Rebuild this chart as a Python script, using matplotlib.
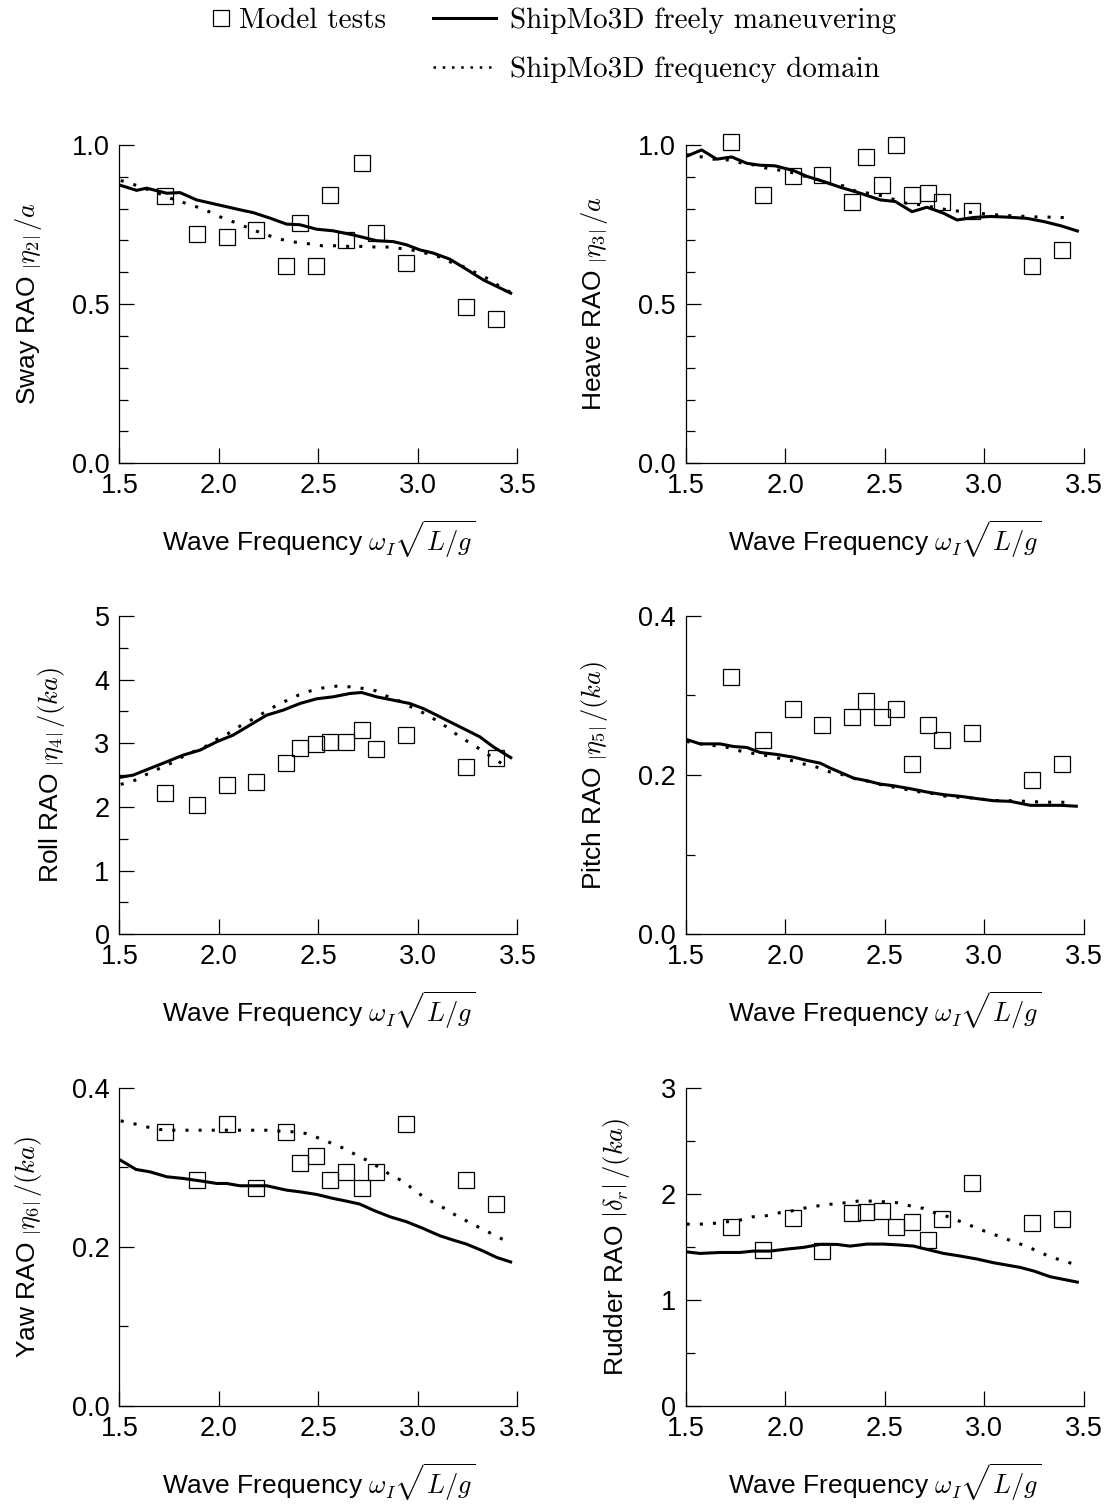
import matplotlib
matplotlib.use('Agg')
import matplotlib.pyplot as plt
from matplotlib.ticker import MultipleLocator, FormatStrFormatter
from matplotlib.lines import Line2D

plt.rcParams['font.family'] = ['Liberation Sans', 'DejaVu Sans']
plt.rcParams['mathtext.fontset'] = 'cm'

# ---------------- data ----------------
test_x = [1.728, 1.888, 2.039, 2.187, 2.337, 2.408, 2.487, 2.558, 2.638, 2.718, 2.789, 2.939, 3.240, 3.390]

sway_test = [0.838, 0.720, 0.712, 0.731, 0.621, 0.754, 0.621, 0.842, 0.702, 0.942, 0.723, 0.630, 0.492, 0.452]
sway_free_x = [1.500, 1.587, 1.637, 1.738, 1.805, 1.888, 2.022, 2.106, 2.173, 2.256, 2.340, 2.407, 2.491, 2.574,
               2.675, 2.792, 2.876, 2.943, 3.010, 3.077, 3.160, 3.244, 3.328, 3.473]
sway_free_y = [0.874, 0.857, 0.864, 0.848, 0.850, 0.827, 0.808, 0.796, 0.787, 0.770, 0.751, 0.749, 0.735, 0.730,
               0.717, 0.699, 0.696, 0.686, 0.670, 0.660, 0.641, 0.609, 0.576, 0.532]
sway_freq_x = [1.507, 1.570, 1.696, 1.758, 1.821, 1.885, 1.947, 2.009, 2.069, 2.133, 2.193, 2.256, 2.320, 2.387,
               2.454, 2.519, 2.586, 2.653, 2.720, 2.787, 2.854, 2.918, 2.985, 3.051, 3.113, 3.177, 3.236, 3.294,
               3.356, 3.411, 3.473]
sway_freq_y = [0.888, 0.876, 0.848, 0.832, 0.819, 0.806, 0.791, 0.773, 0.759, 0.743, 0.728, 0.714, 0.702, 0.694,
               0.689, 0.683, 0.683, 0.681, 0.681, 0.679, 0.679, 0.674, 0.668, 0.658, 0.647, 0.628, 0.616, 0.597,
               0.578, 0.555, 0.534]

heave_test = [1.008, 0.841, 0.901, 0.904, 0.822, 0.963, 0.874, 1.001, 0.841, 0.850, 0.822, 0.793, 0.621, 0.670]
heave_free_x = [1.500, 1.580, 1.656, 1.731, 1.807, 1.874, 1.949, 2.042, 2.109, 2.192, 2.276, 2.377, 2.478, 2.553,
                2.637, 2.712, 2.796, 2.863, 2.947, 3.031, 3.115, 3.215, 3.299, 3.383, 3.475]
heave_free_y = [0.963, 0.984, 0.955, 0.962, 0.942, 0.936, 0.934, 0.919, 0.901, 0.885, 0.867, 0.848, 0.827, 0.822,
                0.790, 0.804, 0.785, 0.764, 0.772, 0.775, 0.773, 0.769, 0.759, 0.746, 0.728]
heave_freq_x = [1.505, 1.572, 1.639, 1.706, 1.773, 1.840, 1.904, 1.966, 2.033, 2.100, 2.167, 2.229, 2.293, 2.360,
                2.419, 2.486, 2.553, 2.617, 2.679, 2.746, 2.813, 2.880, 2.944, 3.011, 3.078, 3.145, 3.212, 3.279,
                3.346, 3.413]
heave_freq_y = [0.969, 0.963, 0.955, 0.953, 0.944, 0.937, 0.927, 0.921, 0.913, 0.901, 0.890, 0.877, 0.871, 0.853,
                0.848, 0.840, 0.827, 0.815, 0.812, 0.804, 0.796, 0.791, 0.787, 0.783, 0.779, 0.777, 0.775, 0.773,
                0.773, 0.771]

roll_test = [2.223, 2.029, 2.343, 2.395, 2.694, 2.929, 2.986, 3.013, 3.013, 3.206, 2.908, 3.128, 2.631, 2.762]
roll_free_x = [1.500, 1.570, 1.654, 1.738, 1.821, 1.905, 1.989, 2.072, 2.156, 2.240, 2.323, 2.407, 2.491, 2.574,
               2.658, 2.717, 2.792, 2.876, 2.959, 3.026, 3.077, 3.160, 3.244, 3.311, 3.378, 3.473]
roll_free_y = [2.463, 2.500, 2.605, 2.709, 2.814, 2.892, 3.023, 3.128, 3.285, 3.441, 3.520, 3.624, 3.698, 3.729,
               3.781, 3.797, 3.729, 3.677, 3.624, 3.546, 3.468, 3.337, 3.206, 3.101, 2.945, 2.762]
roll_freq_x = [1.507, 1.570, 1.629, 1.691, 1.751, 1.810, 1.872, 1.930, 1.989, 2.047, 2.106, 2.161, 2.220, 2.277,
               2.337, 2.399, 2.461, 2.524, 2.591, 2.658, 2.725, 2.789, 2.851, 2.909, 2.971, 3.026, 3.085, 3.143,
               3.199, 3.252, 3.311, 3.369, 3.425]
roll_freq_y = [2.354, 2.406, 2.500, 2.589, 2.673, 2.777, 2.866, 2.944, 3.060, 3.154, 3.269, 3.363, 3.468, 3.572,
               3.666, 3.755, 3.823, 3.870, 3.896, 3.886, 3.860, 3.823, 3.729, 3.661, 3.562, 3.478, 3.373, 3.258,
               3.128, 3.023, 2.908, 2.788, 2.673]

pitch_test = [0.3228, 0.2443, 0.2831, 0.2631, 0.2727, 0.2931, 0.2727, 0.2831, 0.2142, 0.2631, 0.2443, 0.2534,
              0.1942, 0.2142]
pitch_free_x = [1.500, 1.572, 1.673, 1.740, 1.807, 1.874, 1.958, 2.041, 2.109, 2.176, 2.226, 2.293, 2.343, 2.410,
                2.477, 2.544, 2.628, 2.712, 2.796, 2.880, 2.964, 3.047, 3.131, 3.232, 3.316, 3.383, 3.470]
pitch_free_y = [0.2451, 0.2392, 0.2392, 0.2359, 0.2347, 0.2284, 0.2259, 0.2225, 0.2184, 0.2150, 0.2088, 0.2017,
                0.1962, 0.1929, 0.1887, 0.1866, 0.1829, 0.1787, 0.1754, 0.1733, 0.1704, 0.1678, 0.1670, 0.1620,
                0.1620, 0.1620, 0.1608]
pitch_freq_x = [1.505, 1.575, 1.639, 1.703, 1.770, 1.832, 1.904, 1.966, 2.030, 2.095, 2.159, 2.226, 2.290, 2.352,
                2.419, 2.482, 2.549, 2.615, 2.679, 2.746, 2.809, 2.876, 2.943, 3.010, 3.077, 3.145, 3.212, 3.279,
                3.346, 3.413]
pitch_freq_y = [0.2422, 0.2392, 0.2372, 0.2351, 0.2305, 0.2276, 0.2246, 0.2213, 0.2184, 0.2138, 0.2100, 0.2038,
                0.2004, 0.1954, 0.1921, 0.1879, 0.1846, 0.1816, 0.1787, 0.1766, 0.1733, 0.1720, 0.1712, 0.1691,
                0.1678, 0.1678, 0.1670, 0.1662, 0.1658, 0.1658]

yaw_test = [0.3444, 0.2837, 0.3540, 0.2740, 0.3444, 0.3046, 0.3138, 0.2837, 0.2941, 0.2740, 0.2941, 0.3548,
            0.2837, 0.2536]
yaw_free_x = [1.500, 1.584, 1.654, 1.738, 1.821, 1.905, 1.989, 2.039, 2.106, 2.240, 2.340, 2.407, 2.491, 2.574,
              2.641, 2.708, 2.775, 2.859, 2.943, 3.026, 3.110, 3.177, 3.244, 3.328, 3.395, 3.473]
yaw_free_y = [0.3096, 0.2971, 0.2941, 0.2879, 0.2858, 0.2828, 0.2795, 0.2795, 0.2766, 0.2766, 0.2711, 0.2690,
              0.2657, 0.2607, 0.2573, 0.2536, 0.2460, 0.2377, 0.2314, 0.2230, 0.2138, 0.2084, 0.2033, 0.1946,
              0.1866, 0.1803]
yaw_freq_x = [1.507, 1.570, 1.637, 1.704, 1.771, 1.838, 1.905, 1.972, 2.039, 2.106, 2.173, 2.240, 2.307, 2.370,
              2.437, 2.499, 2.561, 2.621, 2.683, 2.742, 2.800, 2.856, 2.913, 2.968, 3.023, 3.080, 3.135, 3.194,
              3.252, 3.311, 3.374, 3.433]
yaw_freq_y = [0.3582, 0.3548, 0.3506, 0.3473, 0.3464, 0.3464, 0.3464, 0.3464, 0.3464, 0.3464, 0.3464, 0.3464,
              0.3452, 0.3444, 0.3423, 0.3368, 0.3305, 0.3243, 0.3163, 0.3088, 0.3004, 0.2912, 0.2837, 0.2740,
              0.2636, 0.2552, 0.2481, 0.2389, 0.2314, 0.2238, 0.2159, 0.2084]

rudder_test = [1.682, 1.468, 1.773, 1.459, 1.820, 1.829, 1.839, 1.688, 1.735, 1.563, 1.760, 2.096, 1.720, 1.757]
rudder_free_x = [1.500, 1.572, 1.673, 1.773, 1.840, 1.924, 2.008, 2.092, 2.176, 2.259, 2.326, 2.410, 2.494, 2.578,
                 2.645, 2.712, 2.796, 2.880, 2.964, 3.047, 3.114, 3.181, 3.249, 3.332, 3.399, 3.475]
rudder_free_y = [1.453, 1.437, 1.446, 1.446, 1.459, 1.459, 1.478, 1.494, 1.522, 1.522, 1.506, 1.525, 1.525, 1.516,
                 1.506, 1.475, 1.437, 1.412, 1.384, 1.349, 1.327, 1.305, 1.271, 1.217, 1.192, 1.164]
rudder_freq_x = [1.505, 1.572, 1.639, 1.706, 1.773, 1.837, 1.904, 1.971, 2.038, 2.104, 2.167, 2.231, 2.301, 2.365,
                 2.432, 2.499, 2.566, 2.632, 2.695, 2.759, 2.821, 2.883, 2.947, 3.010, 3.073, 3.135, 3.195, 3.257,
                 3.319, 3.383, 3.450]
rudder_freq_y = [1.713, 1.713, 1.720, 1.735, 1.751, 1.782, 1.792, 1.820, 1.839, 1.867, 1.886, 1.901, 1.914, 1.930,
                 1.930, 1.923, 1.914, 1.883, 1.861, 1.814, 1.782, 1.735, 1.688, 1.641, 1.600, 1.556, 1.516, 1.468,
                 1.415, 1.374, 1.337]

x_ticks = [1.5, 2.0, 2.5, 3.0, 3.5]
legend_labels = ['Model tests', 'ShipMo3D freely maneuvering', 'ShipMo3D frequency domain']

panels = [
    dict(ylabel=r'Sway RAO $\left|\eta_2\right|\,/a$', test=sway_test,
         free=(sway_free_x, sway_free_y), freq=(sway_freq_x, sway_freq_y),
         ymax=1.0, major=0.5, minor=0.1, fmt='%.1f'),
    dict(ylabel=r'Heave RAO $\left|\eta_3\right|\,/a$', test=heave_test,
         free=(heave_free_x, heave_free_y), freq=(heave_freq_x, heave_freq_y),
         ymax=1.0, major=0.5, minor=0.1, fmt='%.1f'),
    dict(ylabel=r'Roll RAO $\left|\eta_4\right|\,/(ka)$', test=roll_test,
         free=(roll_free_x, roll_free_y), freq=(roll_freq_x, roll_freq_y),
         ymax=5.0, major=1.0, minor=0.5, fmt='%d'),
    dict(ylabel=r'Pitch RAO $\left|\eta_5\right|\,/(ka)$', test=pitch_test,
         free=(pitch_free_x, pitch_free_y), freq=(pitch_freq_x, pitch_freq_y),
         ymax=0.4, major=0.2, minor=0.1, fmt='%.1f'),
    dict(ylabel=r'Yaw RAO $\left|\eta_6\right|\,/(ka)$', test=yaw_test,
         free=(yaw_free_x, yaw_free_y), freq=(yaw_freq_x, yaw_freq_y),
         ymax=0.4, major=0.2, minor=0.1, fmt='%.1f'),
    dict(ylabel=r'Rudder RAO $\left|\delta_r\right|\,/(ka)$', test=rudder_test,
         free=(rudder_free_x, rudder_free_y), freq=(rudder_freq_x, rudder_freq_y),
         ymax=3.0, major=1.0, minor=0.5, fmt='%d'),
]

# ---------------- figure ----------------
fig = plt.figure(figsize=(11.09, 15.04), dpi=100)
lefts = [0.1076, 0.6183]
bottoms = [0.6920, 0.3788, 0.0652]
W, H = 0.3590, 0.2117

FS_TICK = 19.5
FS_LAB = 19
DOT = (0, (1, 3.3))
for i, p in enumerate(panels):
    r, c = divmod(i, 2)
    ax = fig.add_axes([lefts[c], bottoms[r], W, H])
    ax.plot(p['free'][0], p['free'][1], color='black', lw=2.2, solid_capstyle='butt')
    ax.plot(p['freq'][0], p['freq'][1], color='black', lw=2.2, linestyle=DOT, dash_capstyle='butt')
    ax.plot(test_x, p['test'], linestyle='none', marker='s', markersize=11, markerfacecolor='none',
            markeredgecolor='black', markeredgewidth=0.9, clip_on=False)
    ax.set_xlim(1.5, 3.5)
    ax.set_ylim(0, p['ymax'])
    for s in ['top', 'right']:
        ax.spines[s].set_visible(False)
    for s in ['left', 'bottom']:
        ax.spines[s].set_linewidth(0.9)
    ax.set_xticks(x_ticks)
    ax.xaxis.set_major_formatter(FormatStrFormatter('%.1f'))
    ax.yaxis.set_major_locator(MultipleLocator(p['major']))
    ax.yaxis.set_minor_locator(MultipleLocator(p['minor']))
    ax.yaxis.set_major_formatter(FormatStrFormatter(p['fmt']))
    ax.tick_params(axis='both', which='major', direction='in', length=10.8, width=0.9,
                   labelsize=FS_TICK, pad=7)
    ax.tick_params(axis='y', which='minor', direction='in', length=6.5, width=0.9)
    ax.tick_params(axis='x', which='minor', bottom=False)
    ax.set_xlabel(r'Wave Frequency $\omega_I\sqrt{L/g}$', fontsize=FS_LAB, labelpad=14)
    ax.set_ylabel(p['ylabel'], fontsize=FS_LAB, labelpad=20)

# ---------------- legend ----------------
leg_prop = {'family': 'cmr10', 'size': 21}
h_sq = Line2D([], [], linestyle='none', marker='s', markersize=11.5, markerfacecolor='none',
              markeredgecolor='black', markeredgewidth=0.9)
h_solid = Line2D([], [], color='black', lw=2.2)
h_dot = Line2D([], [], color='black', lw=1.8, linestyle=(0, (1, 2.7)))
fig.legend(handles=[h_sq], labels=legend_labels[:1], loc='upper left', bbox_to_anchor=(0.1892, 0.995),
           frameon=False, handlelength=0.8, handletextpad=0.2, borderpad=0, borderaxespad=0, prop=leg_prop)
fig.legend(handles=[h_solid, h_dot], labels=legend_labels[1:], loc='upper left', bbox_to_anchor=(0.3904, 0.995),
           frameon=False, handlelength=2.16, handletextpad=0.48, labelspacing=0.77, borderpad=0,
           borderaxespad=0, prop=leg_prop)

fig.savefig('out.png', dpi=100)
